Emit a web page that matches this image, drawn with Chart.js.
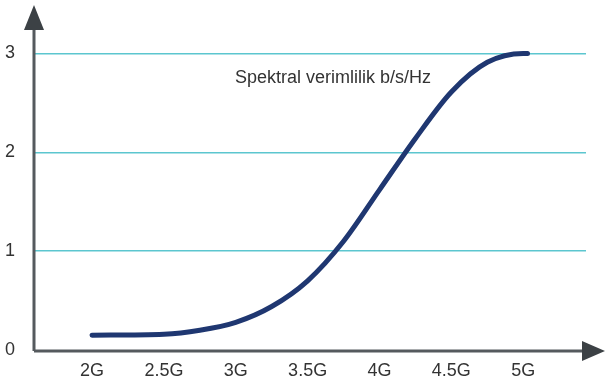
<!DOCTYPE html>
<html>
<head>
<meta charset="utf-8">
<script src="https://cdn.jsdelivr.net/npm/chart.js@4/dist/chart.umd.min.js"></script>
<style>
    html, body { margin: 0; padding: 0; background: #fff; }
    #wrap { width: 606px; height: 385px; }
</style>
</head>
<body>
<div id="wrap"><canvas id="grafico"></canvas></div>
<script>
// datos
const generaciones = [2, 2.5, 2.75, 3, 3.25, 3.5, 3.75, 4, 4.25, 4.5, 4.75, 5, 5.03]
const eficiencia = [0.15, 0.16, 0.2, 0.28, 0.44, 0.7, 1.1, 1.62, 2.14, 2.61, 2.91, 3.0, 3.0]
const xTicks = [2, 2.5, 3, 3.5, 4, 4.5, 5]
const xLabels = ['2G', '2.5G', '3G', '3.5G', '4G', '4.5G', '5G']
const yTicks = [0, 1, 2, 3]
const etiqueta = 'Spektral verimlilik b/s/Hz'

const fuente = { family: '"Liberation Sans", Arial, sans-serif', size: 18 }

// ejes con flechas y texto
const ejesFlechas = {
    id: 'ejesFlechas',
    afterDraw(chart) {
        const ctx = chart.ctx
        const a = chart.chartArea
        const x0 = a.left
        const y0 = a.bottom + 1
        ctx.save()
        ctx.strokeStyle = '#555a5e'
        ctx.lineWidth = 3
        ctx.beginPath()
        ctx.moveTo(x0, y0)
        ctx.lineTo(x0, 28)
        ctx.moveTo(x0, y0)
        ctx.lineTo(585, y0)
        ctx.stroke()
        ctx.fillStyle = '#3c4145'
        ctx.beginPath()
        ctx.moveTo(x0, 5)
        ctx.lineTo(x0 - 10, 30)
        ctx.lineTo(x0 + 10, 30)
        ctx.closePath()
        ctx.fill()
        ctx.beginPath()
        ctx.moveTo(605, y0)
        ctx.lineTo(582, y0 - 10)
        ctx.lineTo(582, y0 + 10)
        ctx.closePath()
        ctx.fill()
        ctx.fillStyle = '#333'
        ctx.font = '18px "Liberation Sans", Arial, sans-serif'
        ctx.textBaseline = 'middle'
        ctx.fillText(etiqueta, 235, 78)
        ctx.restore()
    }
}

let grafico = new Chart(document.getElementById('grafico'), {
    type: 'line',
    data: {
        datasets: [{
            data: generaciones.map((g, i) => ({ x: g, y: eficiencia[i] })),
            borderColor: '#1f3771',
            borderWidth: 5,
            borderCapStyle: 'round',
            pointRadius: 0,
            cubicInterpolationMode: 'monotone',
            fill: false,
        }]
    },
    options: {
        responsive: true,
        maintainAspectRatio: false,
        animation: false,
        layout: { padding: { top: 4, right: 20 } },
        plugins: { legend: { display: false }, tooltip: { enabled: false } },
        scales: {
            x: {
                type: 'linear',
                min: 1.596,
                max: 5.437,
                grid: { display: false, drawTicks: false },
                border: { display: false },
                afterBuildTicks: s => { s.ticks = xTicks.map(v => ({ value: v })) },
                afterFit: s => { s.height = 35 },
                ticks: {
                    color: '#333',
                    font: fuente,
                    padding: 10,
                    maxRotation: 0,
                    autoSkip: false,
                    callback: (v, i) => xLabels[i],
                },
            },
            y: {
                min: 0,
                max: 3.5,
                grid: {
                    color: c => c.tick && c.tick.value === 0 ? 'rgba(0,0,0,0)' : '#5cc6cf',
                    lineWidth: 1.5,
                    drawTicks: false,
                },
                border: { display: false },
                afterBuildTicks: s => { s.ticks = yTicks.map(v => ({ value: v })) },
                afterFit: s => {
                    s.width = 34
                    s.paddingTop = 0
                    s.paddingBottom = 0
                },
                ticks: {
                    color: '#333',
                    font: fuente,
                    padding: 19,
                },
            },
        },
    },
    plugins: [ejesFlechas],
})
</script>
</body>
</html>
